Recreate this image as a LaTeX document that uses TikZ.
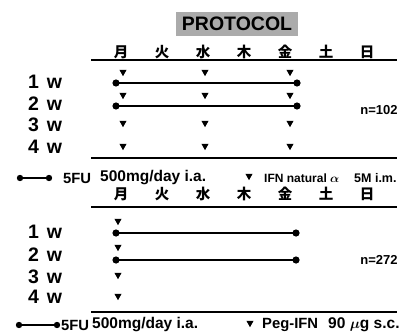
\documentclass[tikz,border=0pt]{standalone}
\usepackage{amsmath}
\usepackage{fontspec}
\setmainfont{Liberation Sans}
\newfontfamily\cjk{Noto Sans CJK JP}
\usetikzlibrary{positioning}

\tikzset{
  rule/.style={line width=2.4pt},
  dose/.style={line width=1.5pt},
  tri/.pic={\fill (-3.6,-3.2) -- (3.6,-3.2) -- (0,3.2) -- cycle;},
}

\begin{document}
\begin{tikzpicture}[x=1pt, y=-1pt, font=\bfseries,
    day/.style={font=\cjk\bfseries\fontsize{14.5}{14.5}\selectfont, inner sep=0pt},
    week/.style={anchor=west, inner sep=0pt, font=\bfseries\fontsize{19.5}{19.5}\selectfont},
    legend/.style={anchor=west, inner sep=0pt, font=\bfseries\fontsize{15.5}{15.5}\selectfont},
    drug/.style={anchor=west, inner sep=0pt, font=\bfseries\fontsize{14.8}{14.8}\selectfont},
    small/.style={anchor=west, inner sep=0pt, font=\bfseries\fontsize{12}{12}\selectfont}]
  \useasboundingbox[fill=white] (0,0) rectangle (411,334);

  \node[fill=black!33, minimum width=122, minimum height=24, inner sep=0pt,
    font=\bfseries\fontsize{19.5}{19.5}\selectfont] (title) at (237,24) {PROTOCOL};

  % upper panel: IFN natural alpha
  \foreach \d [count=\i] in {月,火,水,木,金,土,日}
    \node[day] (da\i) at (80+41*\i,52) {\d};
  \draw[rule] (91,60) coordinate (ra1) -- (397,60) coordinate (ra2);
  \draw[rule] (91,158) coordinate (rb1) -- (397,158) coordinate (rb2);
  \node[week] (wa1) at (28,82) {1\hspace{0.4em}w};
  \node[week] (wa2) at (28,104) {2\hspace{0.4em}w};
  \node[week] (wa3) at (28,125) {3\hspace{0.4em}w};
  \node[week] (wa4) at (28,147) {4\hspace{0.4em}w};
  \foreach \y in {73,96,124,147} {
    \pic at (123,\y) {tri};
    \pic at (205,\y) {tri};
    \pic at (290,\y) {tri};
  }
  \coordinate (sa1) at (116,83);  \coordinate (ea1) at (297,83);
  \coordinate (sa2) at (116,106); \coordinate (ea2) at (297,106);
  \draw[dose] (sa1) -- (ea1);
  \draw[dose] (sa2) -- (ea2);
  \fill (sa1) circle (3.6) (ea1) circle (3.6) (sa2) circle (3.6) (ea2) circle (3.6);
  \node[font=\bfseries\fontsize{13}{13}\selectfont] (na) at (379,110) {n=102};

  % legend 1
  \coordinate (la1) at (20,178); \coordinate (la2) at (49,178);
  \draw[dose] (la1) -- (la2);
  \fill (la1) circle (3.2) (la2) circle (3.2);
  \node[drug] (fa) at (63,178) {5FU};
  \node[legend] (ma) at (100,178) {500mg/day i.a.};
  \pic at (249,177) {tri};
  \node[small] (ia) at (264,178) {IFN natural $\boldsymbol{\alpha}$};
  \node[small, font=\bfseries\fontsize{12.5}{12.5}\selectfont] (ua) at (354,178) {5M i.m.};

  % lower panel: Peg-IFN
  \foreach \d [count=\i] in {月,火,水,木,金,土,日}
    \node[day] (db\i) at (80+41*\i,194) {\d};
  \draw[rule] (91,207) coordinate (rc1) -- (397,207) coordinate (rc2);
  \draw[rule] (91,312) coordinate (rd1) -- (397,312) coordinate (rd2);
  \node[week] (wb1) at (28,232) {1\hspace{0.4em}w};
  \node[week] (wb2) at (28,255) {2\hspace{0.4em}w};
  \node[week] (wb3) at (28,277) {3\hspace{0.4em}w};
  \node[week] (wb4) at (28,297) {4\hspace{0.4em}w};
  \foreach \y in {222,248,276,297}
    \pic at (118,\y) {tri};
  \coordinate (sb1) at (116,233); \coordinate (eb1) at (296,233);
  \coordinate (sb2) at (116,260); \coordinate (eb2) at (296,260);
  \draw[dose] (sb1) -- (eb1);
  \draw[dose] (sb2) -- (eb2);
  \fill (sb1) circle (3.6) (eb1) circle (3.6) (sb2) circle (3.6) (eb2) circle (3.6);
  \node[font=\bfseries\fontsize{13}{13}\selectfont] (nb) at (379,260) {n=272};

  % legend 2
  \coordinate (lb1) at (19,325); \coordinate (lb2) at (57,325);
  \draw[dose] (lb1) -- (lb2);
  \fill (lb1) circle (3.2) (lb2) circle (3.2);
  \node[drug] (fb) at (61,325) {5FU};
  \node[legend] (mb) at (92,325) {500mg/day i.a.};
  \pic at (250,324) {tri};
  \node[drug] (ib) at (262,325) {Peg-IFN};
  \node[legend] (ub) at (328,325) {90 $\boldsymbol{\mu}$g s.c.};
\end{tikzpicture}
\end{document}
